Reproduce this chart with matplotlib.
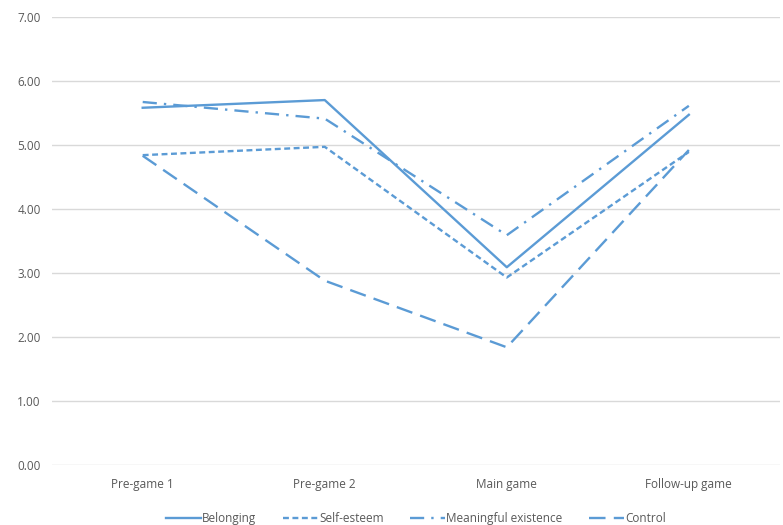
import matplotlib.pyplot as plt

# data
stages = ['Pre-game 1', 'Pre-game 2', 'Main game', 'Follow-up game']
belonging = [5.58, 5.70, 3.09, 5.47]
self_esteem = [4.84, 4.97, 2.93, 4.89]
meaningful = [5.67, 5.41, 3.59, 5.61]
control = [4.83, 2.88, 1.84, 4.92]

blue = '#5B9BD5'
grey_text = '#595959'

plt.rcParams['font.family'] = ['Open Sans', 'DejaVu Sans']

fig = plt.figure(figsize=(7.83, 5.25), dpi=100)
ax = fig.add_axes([0.066, 0.114, 0.930, 0.854])

x = range(len(stages))
ax.plot(x, belonging, color=blue, lw=1.7, linestyle='-', label='Belonging')
ax.plot(x, self_esteem, color=blue, lw=1.7, linestyle=(0, (2.5, 1.5)), label='Self-esteem')
ax.plot(x, meaningful, color=blue, lw=1.7, linestyle=(0, (6, 3, 1, 3)), label='Meaningful existence')
ax.plot(x, control, color=blue, lw=1.7, linestyle=(0, (7, 3.5)), label='Control')

ax.set_xlim(-0.5, 3.5)
ax.set_ylim(0, 7)
ax.set_yticks(range(0, 8))
ax.set_yticklabels(['%.2f' % v for v in range(0, 8)])
ax.set_xticks(list(x))
ax.set_xticklabels(stages)
ax.tick_params(length=0, colors=grey_text, labelsize=8.5)
ax.tick_params(axis='x', pad=9)
ax.tick_params(axis='y', pad=8)
ax.grid(axis='y', color='#d9d9d9', lw=1)
ax.set_axisbelow(True)
for s in ax.spines.values():
    s.set_visible(False)

leg = ax.legend(loc='lower center', bbox_to_anchor=(0.5, -0.158), ncol=4, frameon=False,
                fontsize=8.5, handlelength=3, handletextpad=0.1, columnspacing=2.2)
for t in leg.get_texts():
    t.set_color(grey_text)

fig.savefig('out.png', dpi=100)
